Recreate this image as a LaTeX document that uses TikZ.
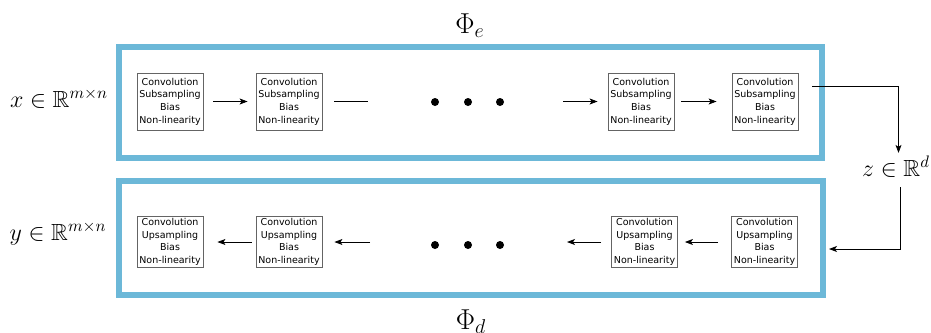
\documentclass[tikz,border=0pt]{standalone}
\usepackage{amsmath,amssymb}
\usepackage{fontspec}
\newfontfamily\boxfont{DejaVu Sans}
\usetikzlibrary{arrows.meta}
\definecolor{frameblue}{RGB}{108,184,216}
\definecolor{boxgray}{RGB}{100,100,100}
\begin{document}
\begin{tikzpicture}[x=0.6pt,y=-0.6pt,
  stage/.style={draw=boxgray, line width=0.5pt, fill=white, inner sep=0pt,
    minimum width=39.6pt, align=center, font=\boxfont\fontsize{5.7}{7.6}\selectfont},
  enc/.style={stage, minimum height=34.2pt},
  dec/.style={stage, minimum height=30.6pt},
  frame/.style={draw=frameblue, line width=3.6pt, inner sep=0pt, outer sep=0pt},
  arr/.style={-{Stealth[length=4.8pt,width=3.6pt,inset=1.2pt]}, line width=0.5pt},
  plain/.style={line width=0.5pt},
  dot/.style={circle, fill=black, inner sep=0pt, minimum size=4.8pt},
  lbl/.style={font=\fontsize{14}{16}\selectfont, inner sep=0pt},
  big/.style={font=\fontsize{17}{19}\selectfont, inner sep=0pt}]
\useasboundingbox (0,0) rectangle (931,332);

% frames
\node[frame, minimum width=421.8pt, minimum height=66.6pt] (ef) at (470.5,102.5) {};
\node[frame, minimum width=422.4pt, minimum height=68.4pt] (df) at (471,238) {};

% labels
\node[big, anchor=base] (phie) at (470,33) {$\Phi_e$};
\node[big, anchor=base] (phid) at (471,329) {$\Phi_d$};
\node[lbl, anchor=base] (xl) at (59,107) {$x\in\mathbb{R}^{m\times n}$};
\node[lbl, anchor=base] (yl) at (58,240) {$y\in\mathbb{R}^{m\times n}$};
\node[lbl, anchor=base] (z) at (896,176) {$z\in\mathbb{R}^{d}$};

% encoder stages
\node[enc] (t1) at (170,101.5) {Convolution\\Subsampling\\Bias\\Non-linearity};
\node[enc] (t2) at (289,101.5) {Convolution\\Subsampling\\Bias\\Non-linearity};
\node[enc] (t3) at (641,101.5) {Convolution\\Subsampling\\Bias\\Non-linearity};
\node[enc] (t4) at (765,101.5) {Convolution\\Subsampling\\Bias\\Non-linearity};

% decoder stages
\node[dec] (b1) at (170,242) {Convolution\\Upsampling\\Bias\\Non-linearity};
\node[dec] (b2) at (289,242) {Convolution\\Upsampling\\Bias\\Non-linearity};
\node[dec] (b3) at (644.5,242) {Convolution\\Upsampling\\Bias\\Non-linearity};
\node[dec] (b4) at (764.5,242) {Convolution\\Upsampling\\Bias\\Non-linearity};

% dots
\node[dot] (td1) at (435,102) {};
\node[dot] (td2) at (468,102) {};
\node[dot] (td3) at (500,102) {};
\node[dot] (bd1) at (435,245) {};
\node[dot] (bd2) at (468,245) {};
\node[dot] (bd3) at (500,245) {};

% free ends
\coordinate (te2) at (368,101.5);
\coordinate (ts3) at (563,101.5);
\coordinate (bs2) at (370,242);
\coordinate (be3) at (567,242);

% encoder connectors
\draw[arr, shorten <=6pt, shorten >=4.8pt] (t1) -- (t2);
\draw[plain, shorten <=7.2pt] (t2) -- (te2);
\draw[arr, shorten >=6pt] (ts3) -- (t3);
\draw[arr, shorten <=4.2pt, shorten >=9pt] (t3) -- (t4);

% decoder connectors
\draw[arr, shorten <=2.4pt, shorten >=8.4pt] (b2) -- (b1);
\draw[arr, shorten >=7.2pt] (bs2) -- (b2);
\draw[arr, shorten <=6pt] (b3) -- (be3);
\draw[arr, shorten <=7.8pt, shorten >=4.2pt] (b4) -- (b3);

% latent connectors
\draw[arr, shorten >=1.5pt] ([xshift=8.4pt,yshift=9.3pt]t4.east) -| ([xshift=1.5pt]z.north);
\draw[arr, shorten <=6pt, shorten >=3.6pt] ([xshift=2.4pt]z.south) |- ([yshift=-6.6pt]df.east);
\end{tikzpicture}
\end{document}
